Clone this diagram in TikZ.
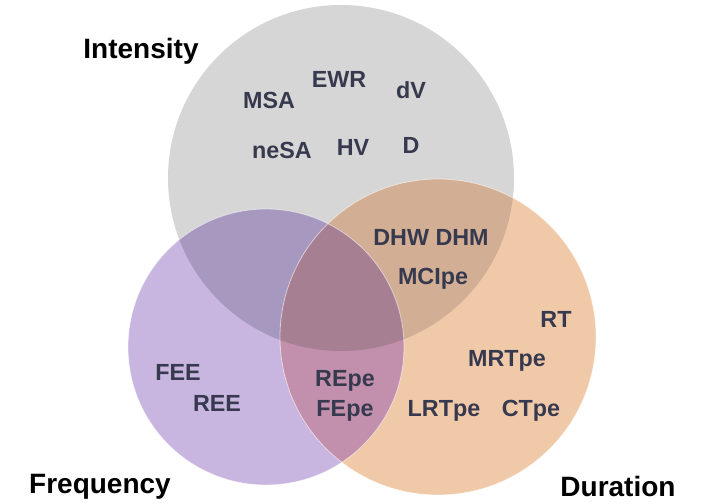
\documentclass[tikz,border=0pt]{standalone}
\usepackage{fontspec}
\setmainfont{Liberation Sans}
\newfontfamily\vennfont{Liberation Sans}[BoldFont={* Bold}]
\definecolor{greyset}{HTML}{D6D6D6}
\definecolor{purpleset}{HTML}{C9B6E0}
\definecolor{orangeset}{HTML}{F0C9A9}
\definecolor{greypurple}{HTML}{A798BF}
\definecolor{greyorange}{HTML}{D2AE94}
\definecolor{purpleorange}{HTML}{C290AD}
\definecolor{allthree}{HTML}{A77F93}
\definecolor{labelcol}{HTML}{373A4E}
\tikzset{
  setlabel/.style={anchor=base, inner sep=0pt, text=labelcol,
    font=\vennfont\bfseries\fontsize{17.5}{20}\selectfont},
  settitle/.style={anchor=base, inner sep=0pt, text=black,
    font=\vennfont\bfseries\fontsize{21}{25}\selectfont},
  rim/.style={draw=white, draw opacity=0.55, line width=0.6pt}
}
\begin{document}
\begin{tikzpicture}[x=0.75pt, y=-0.75pt]
\useasboundingbox (0,0) rectangle (705,503);
% circle centres and radii (pixel units)
\coordinate (I) at (341,178);
\coordinate (F) at (266,347);
\coordinate (R) at (438,337);
\def\rI{173}
\def\rF{138}
\def\rR{158}
% plain sets
\fill[greyset] (I) circle[radius=\rI];
\fill[purpleset] (F) circle[radius=\rF];
\fill[orangeset] (R) circle[radius=\rR];
% pairwise overlaps
\begin{scope}
  \clip (I) circle[radius=\rI];
  \fill[greypurple] (F) circle[radius=\rF];
  \fill[greyorange] (R) circle[radius=\rR];
\end{scope}
\begin{scope}
  \clip (F) circle[radius=\rF];
  \fill[purpleorange] (R) circle[radius=\rR];
\end{scope}
% centre region
\begin{scope}
  \clip (I) circle[radius=\rI];
  \clip (F) circle[radius=\rF];
  \fill[allthree] (R) circle[radius=\rR];
\end{scope}
% faint rims
\draw[rim] (F) circle[radius=\rF];
\draw[rim] (R) circle[radius=\rR];
% set titles
\node[settitle] (tI) at (141,59) {Intensity};
\node[settitle] (tF) at (100,493) {Frequency};
\node[settitle] (tR) at (618,496) {Duration};
% intensity only
\node[setlabel] (msa) at (269,108) {MSA};
\node[setlabel] (ewr) at (339,87) {EWR};
\node[setlabel] (dv) at (411,98) {dV};
\node[setlabel] (nesa) at (282,158) {neSA};
\node[setlabel] (hv) at (353,155) {HV};
\node[setlabel] (d) at (411,153) {D};
% intensity and duration
\node[setlabel] (dhw) at (431,245) {DHW DHM};
\node[setlabel] (mci) at (433,284) {MCIpe};
% duration only
\node[setlabel] (rt) at (556,327) {RT};
\node[setlabel] (mrt) at (507,366) {MRTpe};
\node[setlabel] (lrt) at (444,416) {LRTpe};
\node[setlabel] (ct) at (531,416) {CTpe};
% frequency only
\node[setlabel] (fee) at (178,380) {FEE};
\node[setlabel] (ree) at (217,411) {REE};
% frequency and duration
\node[setlabel] (rep) at (345,386) {REpe};
\node[setlabel] (fep) at (345,416) {FEpe};
\end{tikzpicture}
\end{document}
